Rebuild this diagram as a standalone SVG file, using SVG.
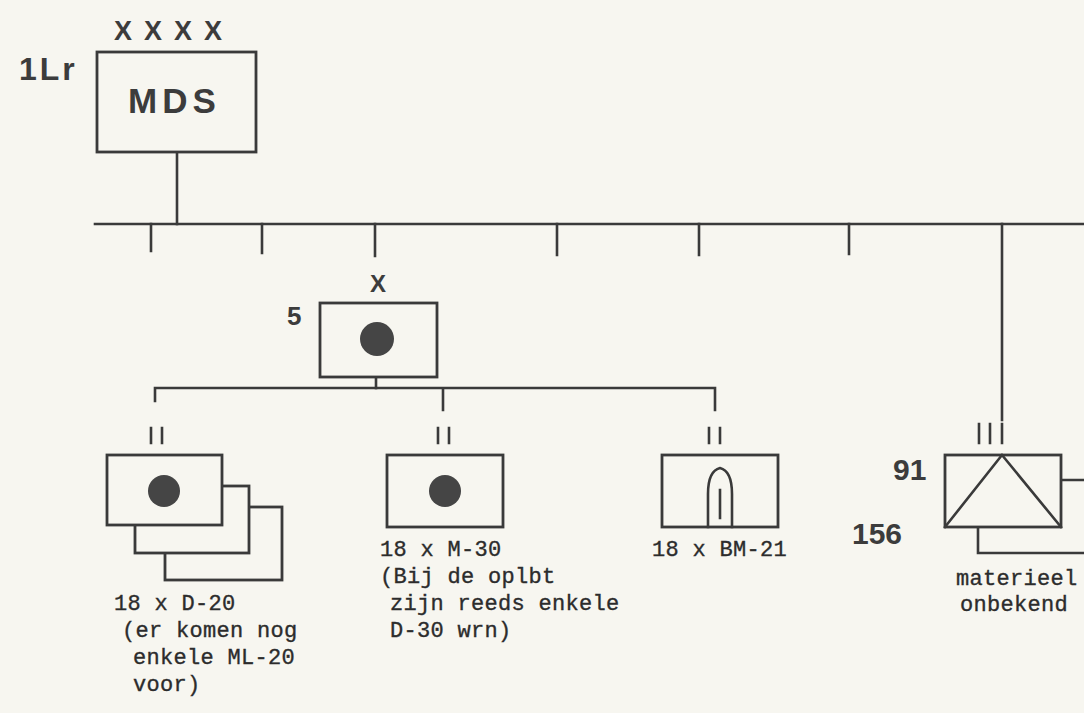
<svg xmlns="http://www.w3.org/2000/svg" width="1084" height="713" viewBox="0 0 1084 713">
<style>
.ln{stroke:#3a3a3a;stroke-width:2.6;fill:none;stroke-linecap:square}
.bx{stroke:#3a3a3a;stroke-width:2.8;fill:#f7f6f0}
.dot{fill:#454545}
.sans{font-family:"Liberation Sans",Arial,sans-serif;font-weight:bold;fill:#3c3c3c}
.tw{font-family:"Liberation Mono","Courier New",monospace;font-size:22px;letter-spacing:0.3px;fill:#2c2c2c;stroke:#2c2c2c;stroke-width:0.35}
</style>
<rect width="1084" height="713" fill="#f7f6f0"/>
<g id="connectors">
  <path class="ln" d="M177,152 V224"/>
  <path class="ln" d="M95,224 H1090"/>
  <path class="ln" d="M151,224 V251 M262,224 V253 M375,224 V256 M557,224 V255 M699,224 V255 M849,224 V254"/>
  <path class="ln" d="M1002,224 V420"/>
  <path class="ln" d="M376,377 V388"/>
  <path class="ln" d="M155,401 V388 H715 V410 M443,388 V410"/>
  <path class="ln" d="M1061,480 H1090"/>
</g>
<g id="hq">
  <text class="sans" x="114" y="40" font-size="27" font-weight="normal" letter-spacing="12">XXXX</text>
  <text class="sans" x="19" y="80" font-size="32" letter-spacing="3">1Lr</text>
  <rect class="bx" x="97" y="52" width="159" height="100"/>
  <text class="sans" x="128" y="113" font-size="35" letter-spacing="5">MDS</text>
</g>
<g id="bn5">
  <text class="sans" x="378" y="292" font-size="24" font-weight="normal" text-anchor="middle">X</text>
  <text class="sans" x="287" y="325" font-size="26">5</text>
  <rect class="bx" x="320" y="303" width="117" height="74"/>
  <circle class="dot" cx="377" cy="339" r="17"/>
</g>
<g id="d20">
  <path class="ln" d="M151,428 V443 M162,428 V443"/>
  <rect class="bx" x="165" y="507" width="117" height="73"/>
  <rect class="bx" x="135" y="486" width="114" height="67"/>
  <rect class="bx" x="107" y="455" width="115" height="70"/>
  <circle class="dot" cx="164" cy="491" r="16"/>
  <text class="tw" x="114" y="610">18 x D-20</text>
  <text class="tw" x="122" y="637">(er komen nog</text>
  <text class="tw" x="133" y="664">enkele ML-20</text>
  <text class="tw" x="133" y="691">voor)</text>
</g>
<g id="m30">
  <path class="ln" d="M438,428 V443 M449,428 V443"/>
  <rect class="bx" x="387" y="455" width="116" height="72"/>
  <circle class="dot" cx="445" cy="491" r="16"/>
  <text class="tw" x="380" y="556">18 x M-30</text>
  <text class="tw" x="380" y="583">(Bij de oplbt</text>
  <text class="tw" x="390" y="610">zijn reeds enkele</text>
  <text class="tw" x="390" y="637">D-30 wrn)</text>
</g>
<g id="bm21">
  <path class="ln" d="M709,428 V443 M720,428 V443"/>
  <rect class="bx" x="662" y="455" width="116" height="72"/>
  <path class="ln" d="M708,527 V494 Q708,471 720,468 Q732,471 732,494 V527 M720,490 V518"/>
  <text class="tw" x="652" y="556">18 x BM-21</text>
</g>
<g id="mat">
  <path class="ln" d="M979,424 V443 M990,424 V443 M1002,424 V443"/>
  <text class="sans" x="893" y="480" font-size="30">91</text>
  <text class="sans" x="852" y="544" font-size="30">156</text>
  <path class="ln" d="M978,527 V553 H1090"/>
  <rect class="bx" x="945" y="455" width="116" height="72"/>
  <path class="ln" d="M945,527 L1002,455 L1061,527"/>
  <text class="tw" x="956" y="585">materieel</text>
  <text class="tw" x="960" y="611">onbekend</text>
</g>
</svg>
